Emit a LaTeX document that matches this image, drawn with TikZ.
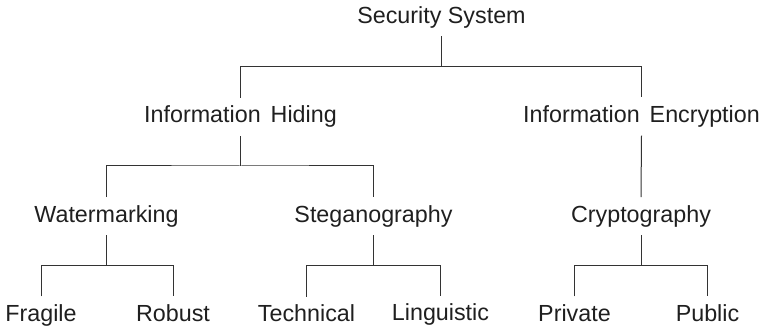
\documentclass[tikz,border=0pt]{standalone}
\usepackage{fontspec}
\setmainfont{Liberation Sans}
\usetikzlibrary{calc}
\begin{document}
\begin{tikzpicture}[x=1pt,y=-1pt,
  lbl/.style={font=\fontsize{23.3}{28}\selectfont, text=black!88, anchor=base,
    text height=17pt, text depth=5pt, inner xsep=0pt, inner ysep=8pt},
  conn/.style={draw=black!80, line width=1pt}]
\useasboundingbox (0,0) rectangle (764,331);
% nodes
\node[lbl] (ss) at (441.5,23.3) {Security System};
\node[lbl] (ih) at (240.5,123) {Information\hspace{0.43em}Hiding};
\node[lbl] (ie) at (641.5,122.5) {Information\hspace{0.43em}Encryption};
\node[lbl] (wm) at (106.5,222.3) {Watermarking};
\node[lbl] (st) at (373.5,222.3) {Steganography};
\node[lbl] (cr) at (641,222.3) {Cryptography};
\node[lbl] (fr) at (41,321.5) {Fragile};
\node[lbl] (ro) at (173,321.5) {Robust};
\node[lbl] (te) at (306.5,322) {Technical};
\node[lbl] (li) at (440.5,321) {Linguistic};
\node[lbl] (pr) at (574.5,321.5) {Private};
\node[lbl] (pu) at (707.5,321.5) {Public};
% bar levels
\coordinate (b1) at (0,66.5);
\coordinate (b2) at (0,166);
\coordinate (b3) at (0,265.5);
% connectors
\draw[conn] (ss.south) -- (ss.south |- b1);
\draw[conn] (ih.north) |- (ss.south |- b1) -| (ie.north);
\draw[conn] (ih.south) -- (ih.south |- b2);
\draw[conn] (wm.north) |- (ih.south |- b2) -| (st.north);
\draw[conn] (ie.south) -- (cr.north);
\draw[conn] (wm.south) -- (wm.south |- b3);
\draw[conn] (fr.north) |- (wm.south |- b3) -| (ro.north);
\draw[conn] (st.south) -- (st.south |- b3);
\draw[conn] (te.north) |- (st.south |- b3) -| (li.north);
\draw[conn] (cr.south) -- (cr.south |- b3);
\draw[conn] (pr.north) |- (cr.south |- b3) -| (pu.north);
\end{tikzpicture}
\end{document}
